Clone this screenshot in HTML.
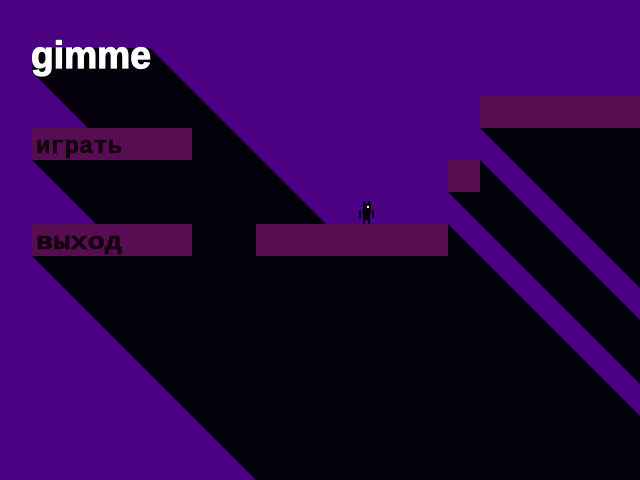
<!DOCTYPE html>
<html><head><meta charset="utf-8"><style>
html,body{margin:0;padding:0;background:#4b0082;overflow:hidden;width:640px;height:480px}
svg{display:block}
</style></head><body>
<svg width="640" height="480" viewBox="0 0 640 480" xmlns="http://www.w3.org/2000/svg">
<rect width="640" height="480" fill="#4b0082"/>
<g fill="#03000c">
<polygon points="34,48 150,48 582,480 440,480 32,72"/>
<polygon points="32,128 192,128 544,480 352,480 32,160"/>
<polygon points="32,224 192,224 448,480 256,480 32,256"/>
<polygon points="256,224 448,224 640,416 640,480 480,480 256,256"/>
<polygon points="448,160 480,160 640,320 640,384 448,192"/>
<polygon points="480,96 640,96 640,288 480,128"/>
</g>
<g fill="#560d52">
<rect x="32" y="128" width="160" height="32"/>
<rect x="32" y="224" width="160" height="32"/>
<rect x="256" y="224" width="192" height="32"/>
<rect x="448" y="160" width="32" height="32"/>
<rect x="480" y="96" width="160" height="32"/>
</g>
<text x="31" y="68" font-family="Liberation Sans, sans-serif" font-weight="bold" font-size="38" fill="#fff" stroke="#fff" stroke-width="1.2" textLength="120" lengthAdjust="spacingAndGlyphs">gimme</text>
<text x="36" y="153" font-family="Liberation Mono, DejaVu Sans Mono, monospace" font-weight="bold" font-size="24" fill="#14000f" stroke="#14000f" stroke-width="0.6" textLength="86" lengthAdjust="spacingAndGlyphs">играть</text>
<text x="36" y="249" font-family="Liberation Mono, DejaVu Sans Mono, monospace" font-weight="bold" font-size="24" fill="#14000f" stroke="#14000f" stroke-width="0.6" textLength="86" lengthAdjust="spacingAndGlyphs">выход</text>
<g fill="#03000c">
<rect x="363" y="201" width="2" height="4"/>
<rect x="368" y="201" width="2" height="4"/>
<rect x="363" y="203" width="8" height="10"/>
<rect x="362" y="210" width="9" height="3"/>
<rect x="363" y="212" width="7" height="8"/>
<rect x="359" y="210" width="2" height="8"/>
<rect x="372" y="210" width="2" height="8"/>
<rect x="363" y="219" width="2" height="5"/>
<rect x="368" y="219" width="2" height="5"/>
</g>
<rect x="367" y="206" width="2" height="2" fill="#fff"/>
</svg>
</body></html>
